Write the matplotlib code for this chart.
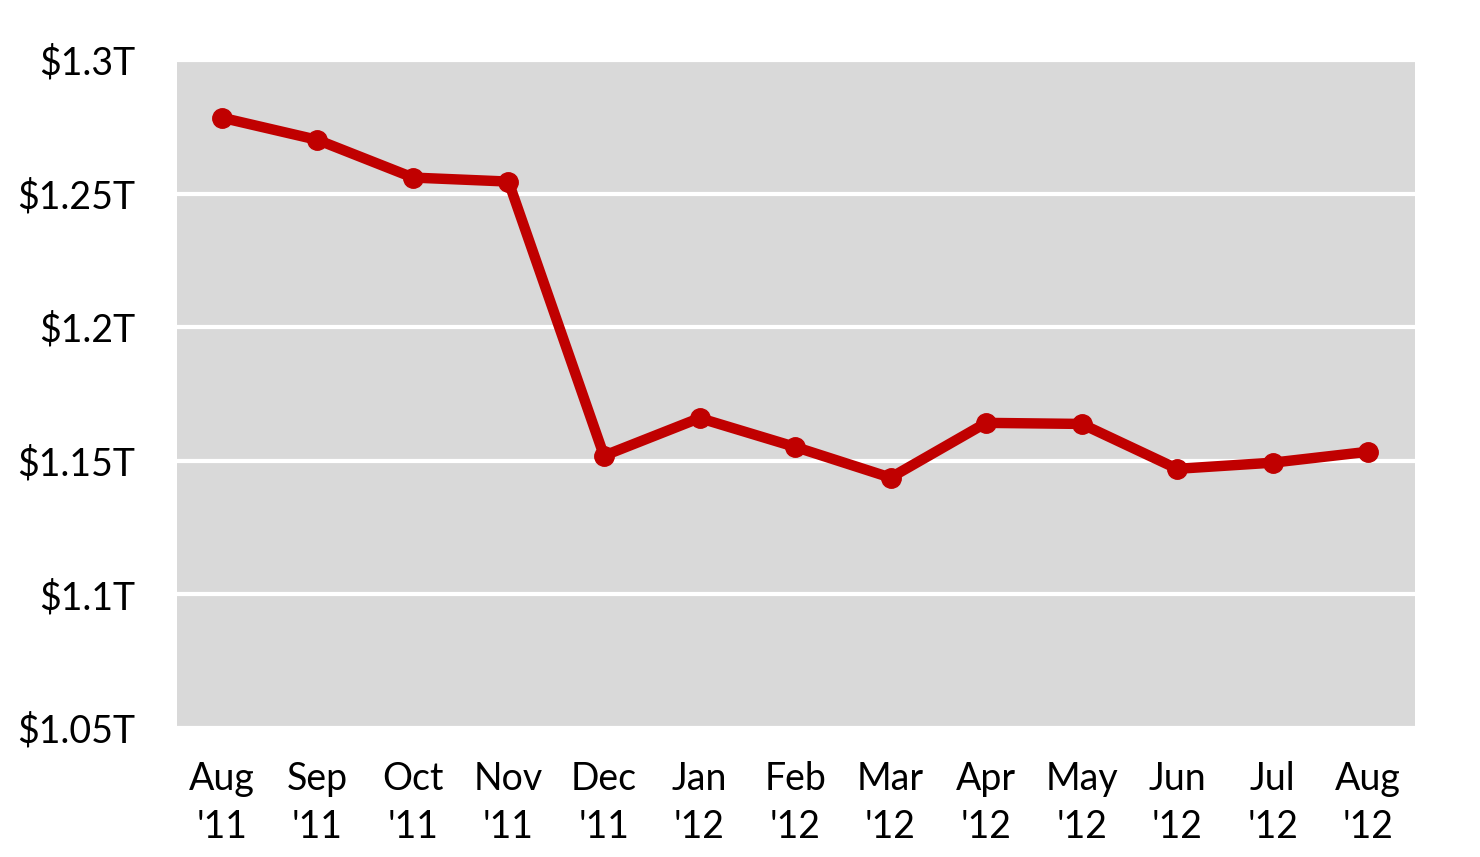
import matplotlib
matplotlib.use('Agg')
import matplotlib.pyplot as plt

months = ["Aug\n'11", "Sep\n'11", "Oct\n'11", "Nov\n'11", "Dec\n'11", "Jan\n'12", "Feb\n'12",
          "Mar\n'12", "Apr\n'12", "May\n'12", "Jun\n'12", "Jul\n'12", "Aug\n'12"]
values = [1.2784, 1.2701, 1.2560, 1.2545, 1.1519, 1.1660, 1.1552,
          1.1437, 1.1642, 1.1638, 1.1470, 1.1493, 1.1534]
yticks = [1.05, 1.1, 1.15, 1.2, 1.25, 1.3]
ylabels = ['$1.05T', '$1.1T', '$1.15T', '$1.2T', '$1.25T', '$1.3T']

plt.rcParams['font.family'] = ['Lato', 'DejaVu Sans']

fig = plt.figure(figsize=(14.8, 8.57), dpi=100)
ax = fig.add_axes([0.1196, 0.1505, 0.8365, 0.7795])
ax.set_facecolor('#d9d9d9')

x = list(range(len(values)))
ax.plot(x, values, '-o', color='#c00000', lw=7.5, ms=14, zorder=3)

ax.set_xlim(-0.47, 12.49)
ax.set_ylim(1.05, 1.3)
ax.set_yticks(yticks)
ax.set_yticklabels([s.replace('$', r'\$') for s in ylabels])
ax.set_xticks(x)
ax.set_xticklabels(months, linespacing=1.4)
ax.tick_params(length=0, labelsize=27)
ax.tick_params(axis='y', pad=30)
ax.tick_params(axis='x', pad=24)
ax.grid(axis='y', color='white', lw=3)
ax.set_axisbelow(True)
for s in ax.spines.values():
    s.set_visible(False)

fig.savefig('out.png', dpi=100)
